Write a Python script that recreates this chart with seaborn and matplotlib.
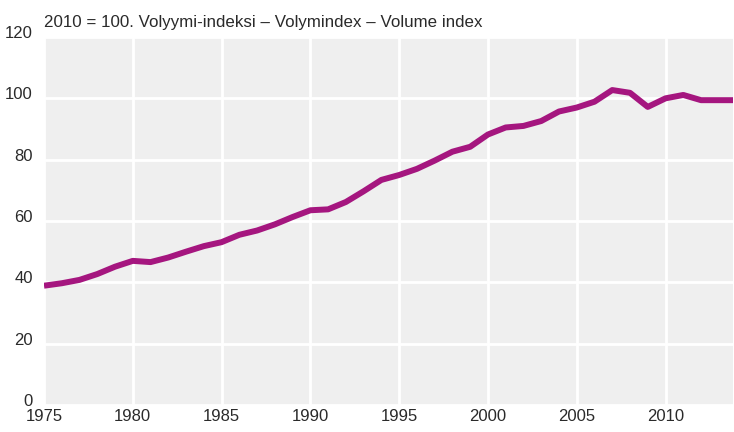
import pandas as pd
import matplotlib.pyplot as plt
import matplotlib.transforms as mtransforms
import seaborn as sns

years = list(range(1975, 2015))
volume_index = [38.9, 39.7, 40.8, 42.7, 45.1, 47.0, 46.6, 48.1, 50.0, 51.8,
                53.1, 55.5, 56.9, 58.9, 61.3, 63.5, 63.8, 66.2, 69.7, 73.4,
                75.0, 77.0, 79.7, 82.6, 84.2, 88.2, 90.5, 91.0, 92.6, 95.7,
                97.0, 98.9, 102.7, 101.8, 97.2, 100.0, 101.1, 99.4, 99.4, 99.4]
xticks = [1975, 1980, 1985, 1990, 1995, 2000, 2005, 2010]
yticks = [0, 20, 40, 60, 80, 100, 120]
title = "2010 = 100. Volyymi-indeksi \u2013 Volymindex \u2013 Volume index"

df = pd.DataFrame({"year": years, "index": volume_index})

sns.set_theme(style="darkgrid")
plt.rcParams["font.family"] = ["Liberation Sans", "DejaVu Sans"]

fig = plt.figure(figsize=(7.34, 4.32), dpi=100)
ax = fig.add_axes([44 / 734, 1 - 405 / 432, 689 / 734, 368 / 432])
ax.set_facecolor("#efefef")

sns.lineplot(data=df, x="year", y="index", color="#a5167f", linewidth=4.3,
             solid_capstyle="butt", ax=ax)

ax.set_xlim(1975, 2013.8)
ax.set_ylim(0, 120)
ax.set_xticks(xticks)
ax.set_yticks(yticks)
ax.grid(True, color="white", linewidth=2)
ax.set_xlabel("")
ax.set_ylabel("")
for s in ax.spines.values():
    s.set_visible(False)
ax.tick_params(axis="both", length=0, labelsize=12, colors="#2a2a2a")
ax.tick_params(axis="x", pad=3)
ax.tick_params(axis="y", pad=8)
# y labels sit a little above their gridlines in the original
shift = mtransforms.ScaledTranslation(0, 5 / 100, fig.dpi_scale_trans)
for lbl in ax.get_yticklabels():
    lbl.set_transform(lbl.get_transform() + shift)
ax.set_title(title, loc="left", fontsize=12.2, pad=7, color="#2a2a2a")

fig.savefig("out.png", dpi=100)
